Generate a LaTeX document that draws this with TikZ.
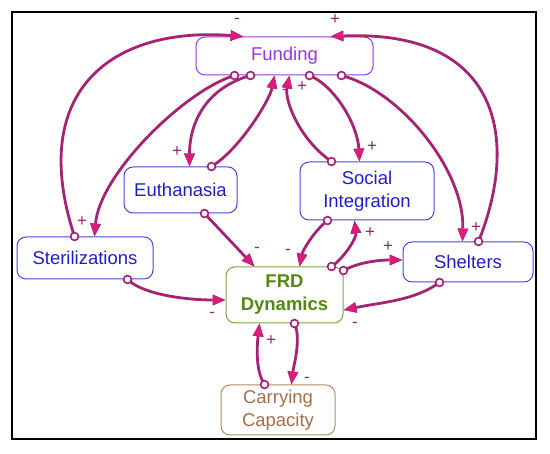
\documentclass[tikz,border=0pt]{standalone}
\usepackage{fontspec}
\setmainfont{Liberation Sans}
\usetikzlibrary{arrows.meta}
\definecolor{conn}{RGB}{165,35,115}
\definecolor{tipc}{RGB}{225,25,125}
\definecolor{lblc}{RGB}{140,40,100}
\definecolor{fundc}{RGB}{150,55,220}
\definecolor{bluec}{RGB}{30,30,200}
\definecolor{blueb}{RGB}{70,70,220}
\definecolor{frdc}{RGB}{85,135,20}
\definecolor{frdb}{RGB}{125,165,65}
\definecolor{ccc}{RGB}{165,110,70}
\definecolor{ccb}{RGB}{180,140,100}
\begin{document}
\begin{tikzpicture}[x=1pt,y=-1pt,
  box/.style={draw, rounded corners=9pt, line width=1pt, inner sep=0pt, align=center,
    font=\fontsize{18.5}{23}\selectfont},
  bbox/.style={box, draw=blueb, text=bluec},
  lnk/.style={draw=conn, line width=2.8pt,
    -{Triangle[length=13pt,width=11pt,fill=tipc,line width=0.6pt]}},
  dotst/.style={draw=conn, fill=white, line width=1.7pt},
  lbl/.style={text=lblc, inner sep=0pt, font=\fontsize{17}{17}\selectfont}]
\useasboundingbox (0,0) rectangle (550,454);
\draw[line width=2pt] (12,12) rectangle (536,439);

% nodes
\node[box, draw=fundc, text=fundc, minimum width=177pt, minimum height=38pt] (fund) at (284.5,56) {Funding};
\node[bbox, minimum width=113pt, minimum height=46pt] (euth) at (180.5,190) {Euthanasia};
\node[bbox, minimum width=134pt, minimum height=58pt] (soc) at (367,191) {Social\\Integration};
\node[bbox, minimum width=136pt, minimum height=42pt] (ster) at (85,258) {Sterilizations};
\node[box, draw=frdb, text=frdc, font=\fontsize{18.5}{23}\selectfont\bfseries,
  minimum width=117pt, minimum height=56pt] (frd) at (284.5,295) {FRD\\Dynamics};
\node[bbox, minimum width=130pt, minimum height=40pt] (shel) at (468,262) {Shelters};
\node[box, draw=ccb, text=ccc, minimum width=114pt, minimum height=50pt] (cc) at (278,410) {Carrying\\Capacity};

% attachment points
\coordinate (cSterF) at ([xshift=58pt]ster.north west);
\coordinate (eSterF) at ([xshift=48pt]fund.north west);
\coordinate (cFSter) at ([xshift=39pt]fund.south west);
\coordinate (eFSter) at ([xshift=78pt]ster.north west);
\coordinate (cFEuth) at ([xshift=55pt]fund.south west);
\coordinate (eFEuth) at ([xshift=66pt]euth.north west);
\coordinate (cEuthF) at ([xshift=88pt]euth.north west);
\coordinate (eEuthF) at ([xshift=79pt]fund.south west);
\coordinate (cSocF) at ([xshift=32pt]soc.north west);
\coordinate (eSocF) at ([xshift=94pt]fund.south west);
\coordinate (cFSoc) at ([xshift=114pt]fund.south west);
\coordinate (eFSoc) at ([xshift=60pt]soc.north west);
\coordinate (cFShel) at ([xshift=146pt]fund.south west);
\coordinate (eFShel) at ([xshift=60pt]shel.north west);
\coordinate (cShelF) at ([xshift=76pt]shel.north west);
\coordinate (eShelF) at ([xshift=-43pt]fund.north east);
\coordinate (cSterFRD) at ([xshift=111pt]ster.south west);
\coordinate (eSterFRD) at ([yshift=-5pt]frd.west);
\coordinate (cEuthFRD) at ([xshift=81pt]euth.south west);
\coordinate (eEuthFRD) at ([xshift=29pt]frd.north west);
\coordinate (cSocFRD) at ([xshift=28pt]soc.south west);
\coordinate (eSocFRD) at ([xshift=74pt]frd.north west);
\coordinate (cFRDSoc) at ([xshift=106pt]frd.north west);
\coordinate (eFRDSoc) at ([xshift=55pt]soc.south west);
\coordinate (cFRDShel) at ([yshift=-4pt]frd.north east);
\coordinate (eFRDShel) at ([yshift=2pt]shel.west);
\coordinate (cShelFRD) at ([xshift=37pt]shel.south west);
\coordinate (eShelFRD) at ([yshift=-15pt]frd.east);
\coordinate (cCCFRD) at ([xshift=44pt]cc.north west);
\coordinate (eCCFRD) at ([xshift=34pt]frd.south west);
\coordinate (cFRDCC) at ([xshift=69pt]frd.south west);
\coordinate (eFRDCC) at ([xshift=71pt]cc.north west);

% connectors
\draw[lnk] (cSterF) .. controls +(-48,-147) and +(-130,-10) .. (eSterF);
\draw[lnk] (cFSter) .. controls +(-50,15) and +(5,-62) .. (eFSter);
\draw[lnk] (cFEuth) .. controls +(-46,13) and +(0,-42) .. (eFEuth);
\draw[lnk] (cEuthF) .. controls +(28,-17) and +(-5,25) .. (eEuthF);
\draw[lnk] (cSocF) .. controls +(-32,-22) and +(-5,25) .. (eSocF);
\draw[lnk] (cFSoc) .. controls +(25,10) and +(-2,-37) .. (eFSoc);
\draw[lnk] (cFShel) .. controls +(58,15) and +(2,-72) .. (eFShel);
\draw[lnk] (cShelF) .. controls +(41,-102) and +(170,-7) .. (eShelF);
\draw[lnk] (cSterFRD) .. controls +(17,16) and +(-36,0) .. (eSterFRD);
\draw[lnk] (cEuthFRD) -- (eEuthFRD);
\draw[lnk] (cSocFRD) .. controls +(-15,12) and +(3,-15) .. (eSocFRD);
\draw[lnk] (cFRDSoc) .. controls +(12,-8) and +(2,18) .. (eFRDSoc);
\draw[lnk] (cFRDShel) .. controls +(15,-8) and +(-25,0) .. (eFRDShel);
\draw[lnk] (cShelFRD) .. controls +(-25,18) and +(40,-8) .. (eShelFRD);
\draw[lnk] (cCCFRD) .. controls +(-10,-15) and +(-2,18) .. (eCCFRD);
\draw[lnk] (cFRDCC) .. controls +(7,15) and +(2,-18) .. (eFRDCC);

% origin circles
\foreach \c in {cSterF,cFSter,cFEuth,cEuthF,cSocF,cFSoc,cFShel,cShelF,cSterFRD,
  cEuthFRD,cSocFRD,cFRDSoc,cFRDShel,cShelFRD,cCCFRD,cFRDCC}
  \draw[dotst] (\c) circle (3.9pt);

% polarity labels
\node[lbl] (lSterF) at (237,21) {-};
\node[lbl] (lFSter) at (82,222) {+};
\node[lbl] (lFEuth) at (177,152) {+};
\node[lbl] (lEuthF) at (285,92) {-};
\node[lbl] (lSocF) at (302,87) {+};
\node[lbl] (lFSoc) at (372,147) {+};
\node[lbl] (lFShel) at (476,228) {+};
\node[lbl] (lShelF) at (335,20) {+};
\node[lbl] (lSterFRD) at (212,315) {-};
\node[lbl] (lEuthFRD) at (257,250) {-};
\node[lbl] (lSocFRD) at (288,252) {-};
\node[lbl] (lFRDSoc) at (370,233) {+};
\node[lbl] (lFRDShel) at (388,247) {+};
\node[lbl] (lShelFRD) at (355,325) {-};
\node[lbl] (lCCFRD) at (271,341) {+};
\node[lbl] (lFRDCC) at (307,380) {-};
\end{tikzpicture}
\end{document}
